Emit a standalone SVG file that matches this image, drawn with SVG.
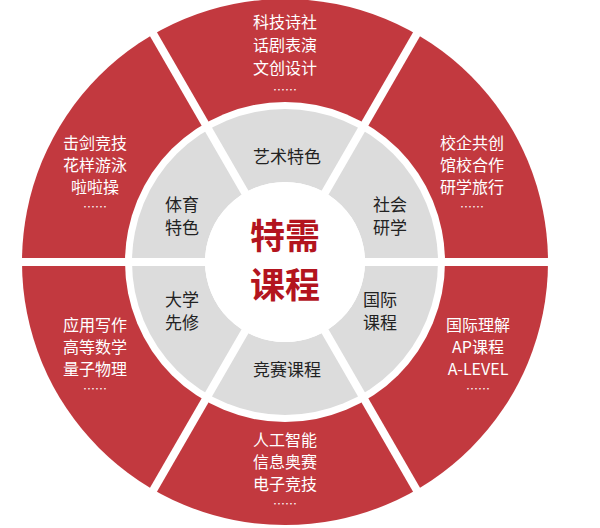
<svg xmlns="http://www.w3.org/2000/svg" width="600" height="528" viewBox="0 0 600 528">
<style>
.o{font-family:"Noto Sans CJK SC",sans-serif;font-size:16px;fill:#fff;text-anchor:middle}
.d{font-family:"Noto Sans CJK SC",sans-serif;font-size:12px;fill:#fff;text-anchor:middle}
.i{font-family:"Noto Sans CJK SC",sans-serif;font-size:17px;fill:#222;text-anchor:middle}
.c{font-family:"Noto Sans CJK SC",sans-serif;font-size:35px;font-weight:bold;fill:#b3141e;text-anchor:middle}
</style>
<rect width="600" height="528" fill="#fff"/>
<g id="rings">
<circle cx="285" cy="262" r="263" fill="#c2393f"/>
<circle cx="285" cy="262" r="160" fill="#fff"/>
<circle cx="285" cy="262" r="153" fill="#dcdcdc"/>
<circle cx="285" cy="262" r="80" fill="#fff"/>
</g>
<g id="connectors" stroke="#fff" stroke-width="8">
<line x1="15" y1="262" x2="555" y2="262"/>
<line x1="150" y1="28.2" x2="420" y2="495.8"/>
<line x1="420" y1="28.2" x2="150" y2="495.8"/>
<circle cx="285" cy="262" r="80" fill="#fff" stroke="none"/>
</g>
<g id="top"><text class="o" x="285" y="28">科技诗社</text><text class="o" x="285" y="51">话剧表演</text><text class="o" x="285" y="74">文创设计</text><text class="d" x="285" y="95">……</text></g>
<g id="upright"><text class="o" x="472" y="149">校企共创</text><text class="o" x="472" y="171">馆校合作</text><text class="o" x="472" y="193">研学旅行</text><text class="d" x="472" y="212">……</text></g>
<g id="upleft"><text class="o" x="95" y="149">击剑竞技</text><text class="o" x="95" y="171">花样游泳</text><text class="o" x="95" y="193">啦啦操</text><text class="d" x="95" y="212">……</text></g>
<g id="lowleft"><text class="o" x="95" y="331">应用写作</text><text class="o" x="95" y="353">高等数学</text><text class="o" x="95" y="375">量子物理</text><text class="d" x="95" y="394">……</text></g>
<g id="lowright"><text class="o" x="478" y="331">国际理解</text><text class="o" x="478" y="353">AP课程</text><text class="o" x="478" y="375">A-LEVEL</text><text class="d" x="478" y="394">……</text></g>
<g id="bottom"><text class="o" x="285" y="446">人工智能</text><text class="o" x="285" y="468">信息奥赛</text><text class="o" x="285" y="490">电子竞技</text><text class="d" x="285" y="509">……</text></g>
<g id="art"><text class="i" x="287" y="163">艺术特色</text></g>
<g id="social"><text class="i" x="390" y="211">社会</text><text class="i" x="390" y="234">研学</text></g>
<g id="sport"><text class="i" x="182" y="211">体育</text><text class="i" x="182" y="234">特色</text></g>
<g id="univ"><text class="i" x="182" y="306">大学</text><text class="i" x="182" y="329">先修</text></g>
<g id="intl"><text class="i" x="380" y="306">国际</text><text class="i" x="380" y="329">课程</text></g>
<g id="contest"><text class="i" x="287" y="376">竞赛课程</text></g>
<g id="center"><text class="c" x="285" y="249">特需</text><text class="c" x="285" y="298">课程</text></g>
</svg>
